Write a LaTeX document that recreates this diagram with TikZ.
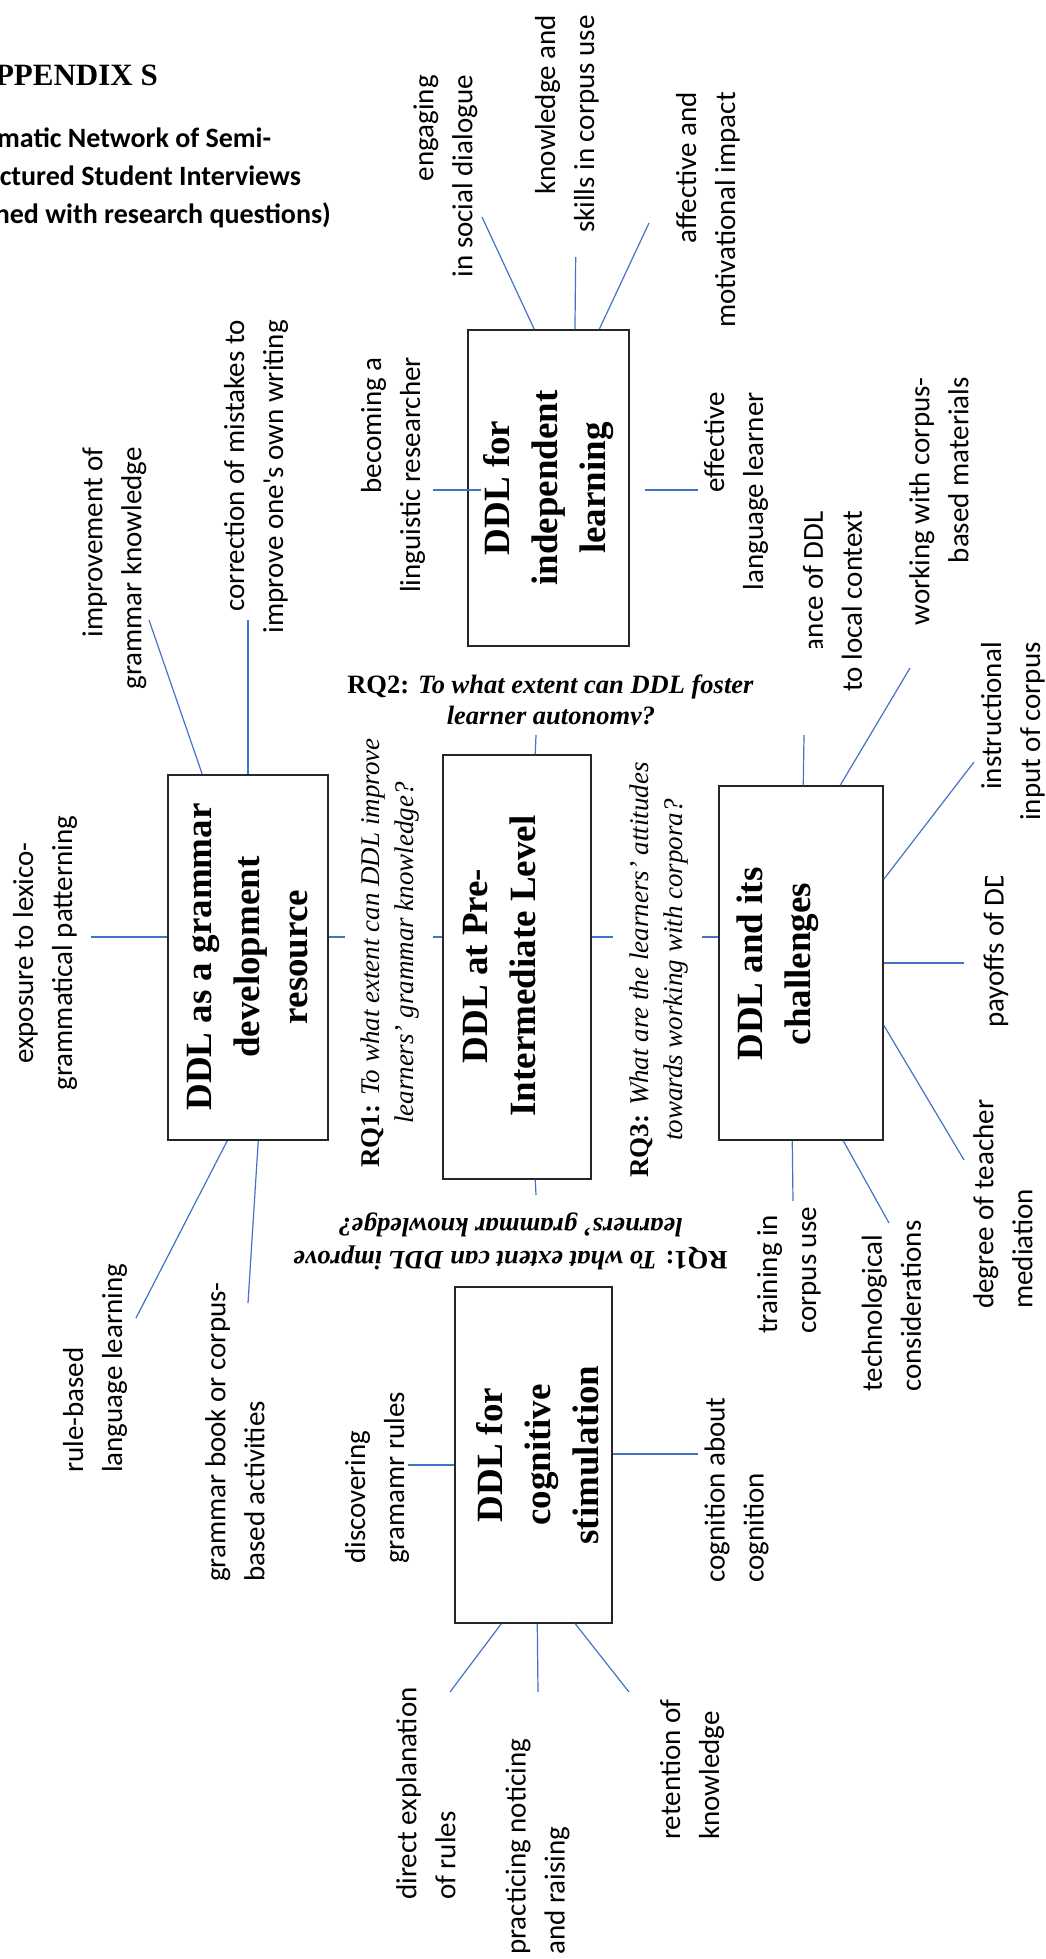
\documentclass[tikz,border=0pt]{standalone}
\usepackage{fontspec}
\setmainfont{Liberation Serif}
\newfontfamily\labfont{Carlito}
\usetikzlibrary{calc}
\definecolor{spokeblue}{HTML}{4472C4}
\definecolor{boxline}{HTML}{262626}
\begin{document}
\begin{tikzpicture}[x=1pt,y=-1pt,
  lab/.style={font=\labfont\fontsize{29}{39}\selectfont, inner sep=0pt, rotate=90},
  sub/.style={font=\labfont\bfseries\fontsize{28}{38}\selectfont, inner sep=0pt, anchor=base west},
  box/.style={draw=boxline, line width=1.5pt, inner sep=0pt},
  boxtext/.style={font=\bfseries\fontsize{37}{48}\selectfont, inner sep=0pt, rotate=90, align=center},
  spoke/.style={draw=spokeblue, line width=1.2pt},
  rqside/.style={font=\fontsize{27}{34}\selectfont, inner sep=0pt, rotate=90, align=center},
  rqtop/.style={font=\bfseries\fontsize{26.5}{31}\selectfont, inner sep=0pt, anchor=base}]
\useasboundingbox (0,0) rectangle (1046,1959);
\clip (0,0) rectangle (1046,1959);

% title
\node[anchor=base east, inner sep=0pt, font=\bfseries\fontsize{31}{37}\selectfont] (appx) at (158,85) {APPENDIX S};
\node[sub] (sub1) at (-46,147) {Thematic Network of Semi-};
\node[sub] (sub2) at (-46,185) {structured Student Interviews};
\node[sub] (sub3) at (-55,223) {(aligned with research questions)};

% boxes
\node[box, minimum width=161pt, minimum height=316pt] (b1) at (548.5,488) {};
\node[box, minimum width=160pt, minimum height=365pt] (b2) at (248,957.5) {};
\node[box, minimum width=148pt, minimum height=424pt] (b0) at (517,967) {};
\node[box, minimum width=164pt, minimum height=354pt] (b4) at (801,963) {};
\node[box, minimum width=157pt, minimum height=336pt] (b3) at (533.5,1455) {};

\node[boxtext] (t1) at (549,488) {DDL for\\independent\\learning};
\node[boxtext] (t2) at (248,957) {DDL as a grammar\\development\\resource};
\node[boxtext] (t0) at (500,966) {DDL at Pre-\\Intermediate Level};
\node[boxtext] (t4) at (777.5,964) {DDL and its\\challenges};
\node[boxtext] (t3) at (538,1455) {DDL for\\cognitive\\stimulation};

% labels
\node[lab, anchor=east, align=right] (l-eng) at (445.5,75) {engaging\\in social dialogue};
\node[lab, anchor=east, align=right] (l-know) at (567,15) {knowledge and\\skills in corpus use};
\node[lab, anchor=east, align=right] (l-aff) at (708,92) {affective and\\motivational impact};
\node[lab, anchor=east, align=right] (l-bec) at (393,357) {becoming a\\linguistic researcher};
\node[lab, anchor=east, align=right] (l-eff) at (736,392) {effective\\language learner};
\node[lab, anchor=east, align=right] (l-rel) at (832.5,511) {relevance of DDL\\to local context};
\node[lab, anchor=east, align=right] (l-work) at (939,377) {working with corpus-\\based materials};
\node[lab, anchor=east, align=right] (l-ins) at (1013,642) {instructional\\input of corpus};
\node[lab, anchor=west] (l-pay) at (996,1028) {payoffs of DDL};
\node[lab, anchor=west, align=left] (l-deg) at (1003,1309) {degree of teacher\\mediation};
\node[lab, anchor=west, align=left] (l-tech) at (891.5,1392) {technological\\considerations};
\node[lab, anchor=west, align=left] (l-tr) at (789,1334) {training in\\corpus use};
\node[lab, anchor=west, align=left] (l-cog) at (736.5,1583) {cognition about\\cognition};
\node[lab, anchor=west, align=left] (l-ret) at (692,1840) {retention of\\knowledge};
\node[lab, anchor=west, align=left] (l-prac) at (537.5,1955) {practicing noticing\\and raising};
\node[lab, anchor=west, align=left] (l-dir) at (426,1900) {direct explanation\\of rules};
\node[lab, anchor=west, align=left] (l-disc) at (377,1564) {discovering\\gramamr rules};
\node[lab, anchor=west, align=left] (l-gb) at (235,1582) {grammar book or corpus-\\based activities};
\node[lab, anchor=west, align=left] (l-rule) at (95,1473) {rule-based\\language learning};
\node[lab, anchor=center, align=center] (l-exp) at (45,953) {exposure to lexico-\\grammatical patterning};
\node[lab, anchor=east, align=right] (l-imp) at (114.5,447) {improvement of\\grammar knowledge};
\node[lab, anchor=east, align=right] (l-cor) at (256,320) {correction of mistakes to\\improve one's own writing};

% research questions
\node[rqside] (rq1) at (390,953) {\textbf{RQ1:} \textit{To what extent can DDL improve}\\\textit{learners’ grammar knowledge?}};
\node[rqside] (rq3) at (658.5,970) {\textbf{RQ3:} \textit{What are the learners’ attitudes}\\\textit{towards working with corpora?}};
\node[font=\bfseries\fontsize{26.6}{33}\selectfont, inner sep=0pt, rotate=180, align=center] (rq1b) at (510.5,1241) {RQ1: \textit{To what extent can DDL improve}\\\textit{learners’ grammar knowledge?}};
\node[rqtop] (rq2a) at (550.5,693) {RQ2: \textit{To what extent can DDL foster}};
\node[rqtop] (rq2b) at (551,724) {\textit{learner autonomy?}};

% covers (parts hidden in the original)
\fill[white] ($(rq2b.base west)+(-4,1.2)$) rectangle ($(rq2b.base east)+(4,10)$);
\fill[white] (798,648) rectangle (828,716);
\fill[white] (982,845) rectangle (1012,876);

% spoke end points
\coordinate (p-eng) at (482,217);
\coordinate (p-know) at (575.7,257);
\coordinate (p-aff) at (649,223);
\coordinate (p-bec) at (433,490);
\coordinate (p-eff) at (698,490);
\coordinate (p-imp) at (149,620);
\coordinate (p-cor) at (248,620);
\coordinate (p-exp) at (91,937);
\coordinate (p-rule) at (136,1318);
\coordinate (p-gb) at (248,1303);
\coordinate (p-rq1) at (345,937);
\coordinate (p-rq2) at (536,735);
\coordinate (p-rq1b) at (536,1195);
\coordinate (p-rq1l) at (433,937);
\coordinate (p-rq3) at (613,937);
\coordinate (p-rq3b) at (702,937);
\coordinate (p-rel) at (804,735);
\coordinate (p-work) at (910,668);
\coordinate (p-ins) at (974,762);
\coordinate (p-pay) at (964,963);
\coordinate (p-deg) at (964,1160);
\coordinate (p-tr) at (793,1201);
\coordinate (p-tech) at (889,1223);
\coordinate (p-disc) at (408,1465);
\coordinate (p-cog) at (698,1454);
\coordinate (p-dir) at (450,1692);
\coordinate (p-prac) at (538,1692);
\coordinate (p-ret) at (629,1692);

% spokes of box 1
\draw[spoke] (p-eng) -- ($(b1.north west)+(67,0)$);
\draw[spoke] (p-know) -- ($(b1.north west)+(107.7,0)$);
\draw[spoke] (p-aff) -- ($(b1.north west)+(132,0)$);
\draw[spoke] (p-bec) -- ($(b1.west)+(14,2)$);
\draw[spoke] ($(b1.east)+(15,2)$) -- (p-eff);
% spokes of box 2
\draw[spoke] (p-imp) -- ($(b2.north west)+(35,0)$);
\draw[spoke] (p-cor) -- (b2.north);
\draw[spoke] (p-exp) -- ($(b2.west)+(0,-20.5)$);
\draw[spoke] ($(b2.east)+(0,-20.5)$) -- (p-rq1);
\draw[spoke] ($(b2.south west)+(60,0)$) -- (p-rule);
\draw[spoke] ($(b2.south west)+(91,0)$) -- (p-gb);
% spokes of central box
\draw[spoke] (p-rq2) -- ($(b0.north west)+(93,0)$);
\draw[spoke] ($(b0.south west)+(93,0)$) -- (p-rq1b);
\draw[spoke] (p-rq1l) -- ($(b0.west)+(0,-30)$);
\draw[spoke] ($(b0.east)+(0,-30)$) -- (p-rq3);
% spokes of box 4
\draw[spoke] (p-rel) -- ($(b4.north west)+(85,0)$);
\draw[spoke] (p-work) -- ($(b4.north west)+(122,0)$);
\draw[spoke] (p-ins) -- ($(b4.north east)+(0,94)$);
\draw[spoke] (p-pay) -- (b4.east);
\draw[spoke] (p-deg) -- ($(b4.north east)+(0,240)$);
\draw[spoke] ($(b4.south west)+(74,0)$) -- (p-tr);
\draw[spoke] ($(b4.south west)+(125,0)$) -- (p-tech);
\draw[spoke] (p-rq3b) -- ($(b4.west)+(0,-26)$);
% spokes of box 3
\draw[spoke] (p-disc) -- ($(b3.west)+(0,10)$);
\draw[spoke] ($(b3.east)+(0,-1)$) -- (p-cog);
\draw[spoke] ($(b3.south west)+(47,0)$) -- (p-dir);
\draw[spoke] ($(b3.south west)+(83,0)$) -- (p-prac);
\draw[spoke] ($(b3.south west)+(121,0)$) -- (p-ret);
\end{tikzpicture}
\end{document}
